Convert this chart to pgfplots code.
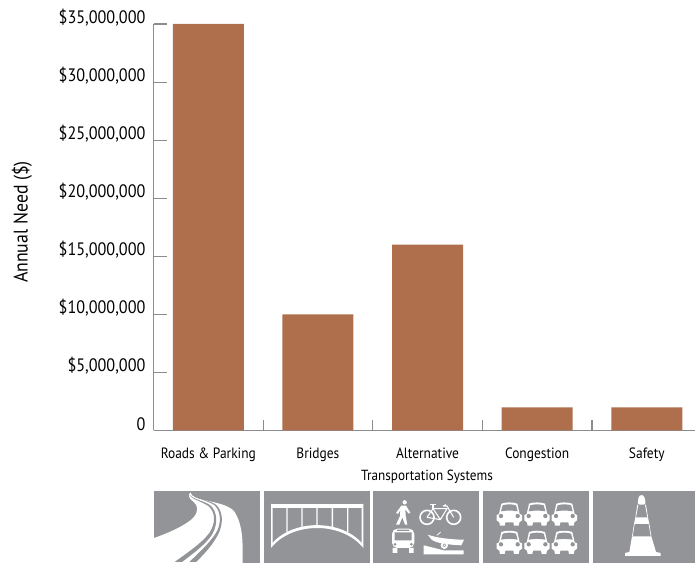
\documentclass[border=0pt]{standalone}
\usepackage{fontspec}
\setmainfont{PT Sans}[FakeStretch=0.9]
\usepackage{pgfplots}
\pgfplotsset{compat=1.18}
\definecolor{barbrown}{HTML}{AF6F4C}
\definecolor{axisgray}{HTML}{8A8C8E}
\definecolor{panelgray}{HTML}{929497}
\newcommand{\carshape}[2]{%
  \begin{scope}[shift={(#1,#2)}]
    \fill[white] (-38,22) -- (-38,10) -- (-31,7) -- (-24,-24) .. controls (-10,-29) and (10,-29) .. (24,-24)
      -- (31,7) -- (38,10) -- (38,26) -- (30,32) -- (28,42) -- (14,42) -- (12,32)
      -- (-12,32) -- (-14,42) -- (-28,42) -- (-30,32) -- (-38,26) -- cycle;
    \fill[panelgray] (-25,-1) -- (-20,-19) .. controls (-8,-23) and (8,-23) .. (20,-19) -- (25,-1) .. controls (8,-4) and (-8,-4) .. (-25,-1) -- cycle;
    \fill[panelgray] (-25,13) circle (6.5) (25,13) circle (6.5);
  \end{scope}}
\begin{document}
\begin{tikzpicture}
\path[use as bounding box] (0,0) rectangle (521.25pt,422.25pt);
\begin{axis}[
  at={(115.125pt,99.375pt)}, anchor=south west,
  scale only axis, width=406.125pt, height=304.875pt,
  xmin=-0.5, xmax=4.44, ymin=0, ymax=35000000,
  axis x line*=bottom, axis y line*=left,
  axis line style={axisgray, line width=1pt, -},
  tick align=inside,
  major tick length=9.75pt, minor tick length=7.5pt,
  tick style={axisgray, line width=0.8pt},
  major x tick style={draw=none},
  minor x tick style={axisgray, line width=0.8pt},
  xtick={0,1,2,3,4},
  minor xtick={0.5,1.5,2.5,3.5},
  xticklabels={Roads \& Parking,Bridges,Alternative,Congestion,Safety},
  ytick={0,5000000,10000000,15000000,20000000,25000000,30000000,35000000},
  yticklabels={0,{\$5,000,000},{\$10,000,000},{\$15,000,000},{\$20,000,000},{\$25,000,000},{\$30,000,000},{\$35,000,000}},
  scaled y ticks=false,
  yticklabel style={font=\fontsize{13.5}{15}\selectfont, text=black, yshift=5pt, xshift=-2.5pt, anchor=east},
  xticklabel style={font=\fontsize{11.2}{13}\selectfont, text=black, text height=8pt, text depth=2.5pt, anchor=center, yshift=-18pt},
  xlabel={Transportation Systems},
  ylabel={Annual Need (\$)},
  xlabel style={font=\fontsize{11}{13}\selectfont, text=black, text height=8pt, text depth=2.5pt, at={(axis description cs:0.505,-0.1135)}, anchor=center},
  ylabel style={font=\fontsize{14.8}{17}\selectfont, text=black, at={(axis description cs:-0.243,0.513)}, anchor=center},
  clip=false,
]
\addplot[ybar, bar width=53.25pt, fill=barbrown, draw=none] coordinates {
  (0,35000000) (1,10000000) (2,16000000) (3,2000000) (4,2000000)
};
\end{axis}

\begin{scope}[shift={(0,422.25pt)},x=0.75pt,y=-0.75pt]
% pictogram panels
\fill[panelgray] (154,491) rectangle (260,563);
\fill[panelgray] (264,491) rectangle (370,563);
\fill[panelgray] (373,491) rectangle (479,563);
\fill[panelgray] (483,491) rectangle (589,563);
\fill[panelgray] (593,491) rectangle (695,563);

% road
\begin{scope}[shift={(152,488)},x=0.25pt,y=-0.25pt]
  \fill[white] (115,13) .. controls (106,22) and (112,32) .. (125,42) .. controls (138,52) and (140,70) .. (125,88)
    .. controls (105,110) and (50,135) .. (6,150) -- (6,225) -- (272,225)
    .. controls (272,170) and (275,110) .. (245,68) .. controls (225,50) and (195,45) .. (165,38)
    .. controls (140,32) and (118,28) .. (115,13) -- cycle;
  \fill[panelgray] (112,20) .. controls (118,34) and (150,40) .. (170,55) .. controls (190,72) and (192,105) .. (172,135)
    .. controls (150,165) and (105,195) .. (68,222) -- (90,222) .. controls (125,195) and (160,170) .. (180,140)
    .. controls (200,105) and (195,70) .. (175,52) .. controls (155,38) and (125,35) .. (112,20) -- cycle;
  \fill[panelgray] (118,16) .. controls (124,30) and (165,36) .. (188,52) .. controls (207,70) and (210,108) .. (190,138)
    .. controls (170,168) and (140,195) .. (112,222) -- (132,222) .. controls (160,195) and (182,170) .. (198,140)
    .. controls (216,105) and (212,68) .. (192,50) .. controls (170,36) and (130,30) .. (118,16) -- cycle;
\end{scope}

% bridge
\begin{scope}[shift={(262,488)},x=0.25pt,y=-0.25pt]
  \fill[white] (27,48) rectangle (304,60);
  \fill[white] (27,180) .. controls (90,100) and (240,100) .. (304,180) -- (304,170) .. controls (240,92) and (90,92) .. (27,170) -- cycle;
  \fill[white] (27,48) rectangle (32,172) (299,48) rectangle (304,172);
  \fill[white] (73,55) rectangle (77,132) (118,55) rectangle (122,118) (163,55) rectangle (167,112)
    (209,55) rectangle (213,118) (255,55) rectangle (259,132);
\end{scope}

% pedestrian, bicycle, bus and boat ramp
\begin{scope}[shift={(372,488)},x=0.25pt,y=-0.25pt]
  \fill[white] (98,43) circle (6.5);
  \fill[white] (88,53) -- (102,53) -- (115,74) -- (110,77) -- (100,64) -- (101,84) -- (106,110) -- (99,110) -- (91,88) -- (82,110) -- (72,110)
    -- (84,84) -- (85,66) -- (78,78) -- (72,75) -- cycle;
  \draw[white,line width=1.2pt] (165,88) circle (21) (245,88) circle (21);
  \draw[white,line width=0.8pt,line join=round] (165,88) -- (183,62) -- (225,62) -- (205,95) -- (165,88) (183,62) -- (205,95) (245,88) -- (225,54) -- (214,54) -- (222,50);
  \draw[white,line width=1pt] (174,50) -- (192,50) (183,50) -- (183,62);
  % bus
  \fill[white,rounded corners=4pt] (60,122) rectangle (127,180);
  \fill[white] (62,180) rectangle (76,195) (111,180) rectangle (125,195);
  \fill[panelgray] (68,133) rectangle (119,157) (75,125) rectangle (112,129);
  \fill[panelgray] (69,169) circle (4.5) (118,169) circle (4.5);
  % boat on its ramp
  \fill[white] (167,140) .. controls (195,150) and (240,155) .. (276,155) -- (268,172) .. controls (225,170) and (190,165) .. (178,154) -- cycle;
  \draw[white,line width=0.6pt] (195,142) -- (206,132);
  \fill[white] (155,172) -- (215,187) -- (275,187) -- (275,199) -- (155,199) -- cycle;
  \fill[white] (217,172) circle (11);
  \fill[panelgray] (217,172) circle (5.5);
  \fill[white] (217,172) circle (2.5);
\end{scope}

% stalled traffic
\begin{scope}[shift={(482,488)},x=0.25pt,y=-0.25pt]
  \carshape{82}{71}\carshape{165}{71}\carshape{247}{71}
  \carshape{82}{156}\carshape{165}{156}\carshape{247}{156}
\end{scope}

% traffic cone
\begin{scope}[shift={(590,488)},x=0.25pt,y=-0.25pt]
  \fill[white,rounded corners=2pt] (147,21) -- (162,21) -- (168,50) -- (142,50) -- cycle;
  \fill[white] (136,88) -- (174,88) -- (178,108) -- (132,108) -- cycle;
  \fill[white] (126,145) -- (184,145) -- (198,192) -- (212,195) -- (212,204) -- (105,204) -- (105,195) -- (118,192) -- cycle;
  \fill[white] (142,50) -- (145,50) -- (138,88) -- (136,88) -- cycle (168,50) -- (165,50) -- (172,88) -- (174,88) -- cycle;
  \fill[white] (132,108) -- (134,108) -- (128,145) -- (126,145) -- cycle (178,108) -- (176,108) -- (182,145) -- (184,145) -- cycle;
\end{scope}
\end{scope}
\end{tikzpicture}
\end{document}
